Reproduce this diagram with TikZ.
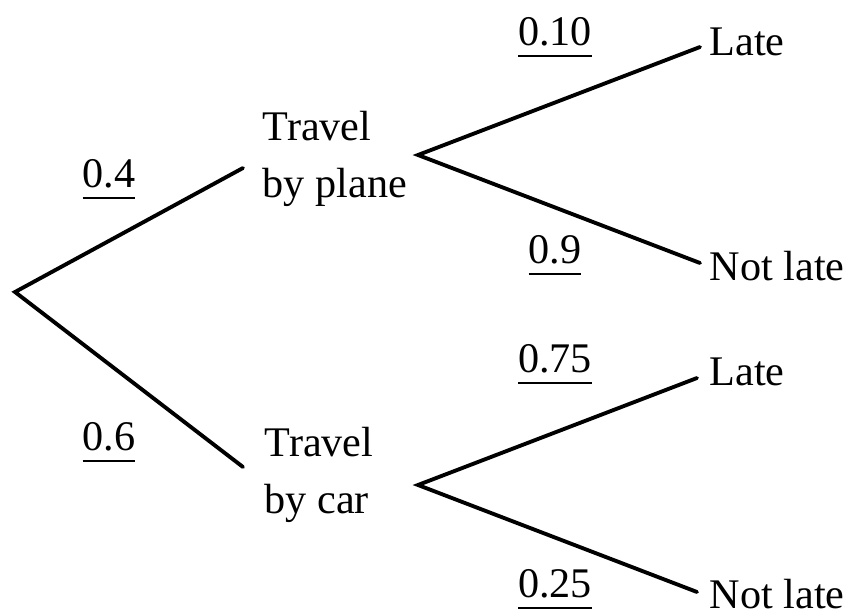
\documentclass[tikz,border=0pt]{standalone}
\usepackage{fontspec}
\setmainfont{Liberation Serif}
\usetikzlibrary{positioning}
\newcommand{\probul}[1]{\underline{#1\rule[-1.7pt]{0pt}{0pt}}}

\begin{document}
\begin{tikzpicture}[
  x=0.01cm, y=-0.01cm,
  every node/.style={font=\fontsize{12}{16}\selectfont, inner sep=0pt},
  branch/.style={line width=1.1pt, line cap=round},
  outcome/.style={align=left, anchor=west},
  leaf/.style={anchor=base west},
  prob/.style={anchor=base},
]
\useasboundingbox (0,0) rectangle (854,615);

% first stage
\coordinate (root) at (15,292);
\coordinate (planeend) at (243,168);
\coordinate (carend) at (243,467);
\node[outcome] (plane) at (262,159) {Travel\\by plane};
\node[outcome] (car) at (264,475) {Travel\\by car};
\coordinate (planefork) at (418,155);
\coordinate (carfork) at (418,485);

\draw[branch] (planeend) -- (root) -- (carend);
\node[prob] (pplane) at (109,187) {\probul{0.4}};
\node[prob] (pcar) at (109,450) {\probul{0.6}};

% second stage, plane
\coordinate (planelateend) at (700,47);
\coordinate (planenotend) at (700,263);
\node[leaf] (planelate) at (709,55) {Late};
\node[leaf] (planenot) at (709,280) {Not late};
\draw[branch] (planelateend) -- (planefork) -- (planenotend);
\node[prob] (pplanelate) at (555,45) {\probul{0.10}};
\node[prob] (pplanenot) at (555,263) {\probul{0.9}};

% second stage, car
\coordinate (carlateend) at (697,378);
\coordinate (carnotend) at (697,592);
\node[leaf] (carlate) at (709,385) {Late};
\node[leaf] (carnot) at (709,608) {Not late};
\draw[branch] (carlateend) -- (carfork) -- (carnotend);
\node[prob] (pcarlate) at (555,372) {\probul{0.75}};
\node[prob] (pcarnot) at (555,597) {\probul{0.25}};
\end{tikzpicture}
\end{document}
